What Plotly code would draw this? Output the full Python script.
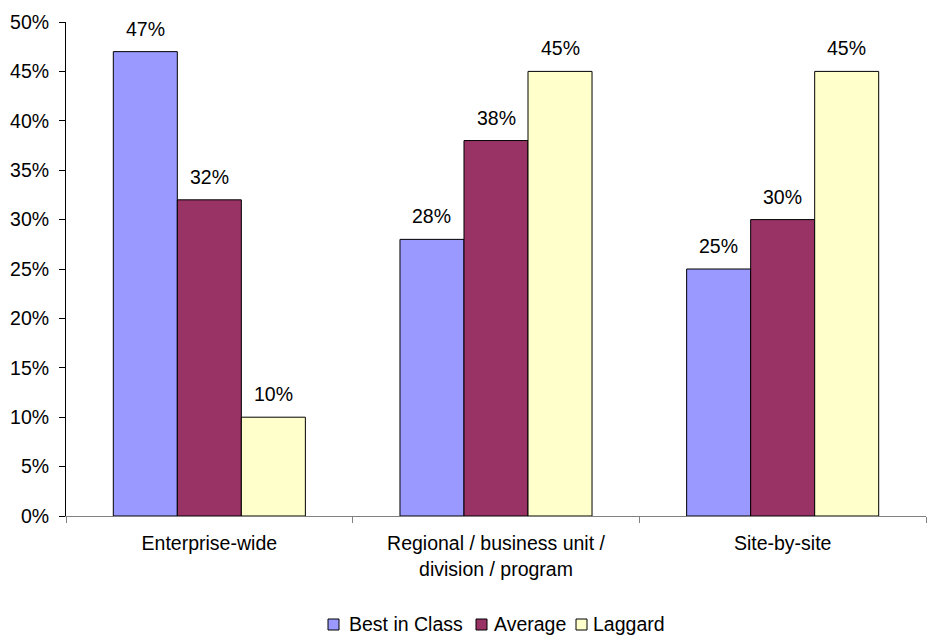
import plotly.graph_objects as go

categories = ["Enterprise-wide", "Regional / business unit /<br>division / program", "Site-by-site"]
best_in_class = [47, 28, 25]
average = [32, 38, 30]
laggard = [10, 45, 45]

series_names = ["Best in Class", "Average", "Laggard"]
series_values = [best_in_class, average, laggard]
series_colors = ["#9999FF", "#993366", "#FFFFCC"]

FONT = "Liberation Sans, Arial, sans-serif"
FS = 19.5

W, H = 931, 635
ML, MR, MT, MB = 66, 5, 22, 119
BARGAP = 0.33

fig = go.Figure()
for name, vals, color in zip(series_names, series_values, series_colors):
    fig.add_trace(go.Bar(
        name=name,
        x=categories,
        y=vals,
        marker=dict(color=color, line=dict(color="black", width=1)),
        showlegend=False,
    ))

# value labels above each bar, shifted to sit over its bar within the group
plot_w = W - ML - MR
bar_w = plot_w / len(categories) * (1 - BARGAP) / len(series_names)
for i, vals in enumerate(series_values):
    for cat, v in zip(categories, vals):
        fig.add_annotation(
            x=cat, y=v, xref="x", yref="y",
            text=f"{v}%", showarrow=False,
            xanchor="center", yanchor="bottom",
            xshift=(i - (len(series_names) - 1) / 2) * bar_w,
            yshift=10,
            font=dict(family=FONT, size=FS, color="black"),
        )

# legend row beneath the chart: small outlined square followed by its name
legend_y = 624
legend_items = [(328, 348), (476, 493), (576, 592)]
for (sq_x, tx_x), name, color in zip(legend_items, series_names, series_colors):
    fig.add_shape(
        type="rect", xref="paper", yref="paper",
        x0=(sq_x - ML) / plot_w, x1=(sq_x + 11 - ML) / plot_w,
        y0=(H - MB - (legend_y + 6)) / (H - MT - MB),
        y1=(H - MB - (legend_y - 5)) / (H - MT - MB),
        fillcolor=color, line=dict(color="black", width=1),
    )
    fig.add_annotation(
        x=(tx_x - ML) / plot_w, y=(H - MB - legend_y) / (H - MT - MB),
        xref="paper", yref="paper", text=name, showarrow=False,
        xanchor="left", yanchor="middle", borderpad=0,
        font=dict(family=FONT, size=FS, color="black"),
    )

fig.update_layout(
    width=W,
    height=H,
    margin=dict(l=ML, r=MR, t=MT, b=MB, autoexpand=False),
    paper_bgcolor="white",
    plot_bgcolor="white",
    barmode="group",
    bargap=BARGAP,
    bargroupgap=0,
    font=dict(family=FONT, size=FS, color="black"),
    showlegend=False,
    xaxis=dict(
        showline=True,
        linecolor="#808080",
        linewidth=1,
        ticks="outside",
        tickson="boundaries",
        ticklen=6,
        tickcolor="#808080",
        showgrid=False,
        automargin=False,
        ticklabelstandoff=10,
        tickfont=dict(family=FONT, size=FS, color="black"),
    ),
    yaxis=dict(
        range=[0, 50],
        dtick=5,
        ticksuffix="%",
        showline=True,
        linecolor="black",
        linewidth=1,
        ticks="outside",
        ticklen=6,
        tickcolor="black",
        showgrid=False,
        zeroline=False,
        automargin=False,
        ticklabelstandoff=6,
        tickfont=dict(family=FONT, size=FS, color="black"),
    ),
)

fig.write_html("out.html")
